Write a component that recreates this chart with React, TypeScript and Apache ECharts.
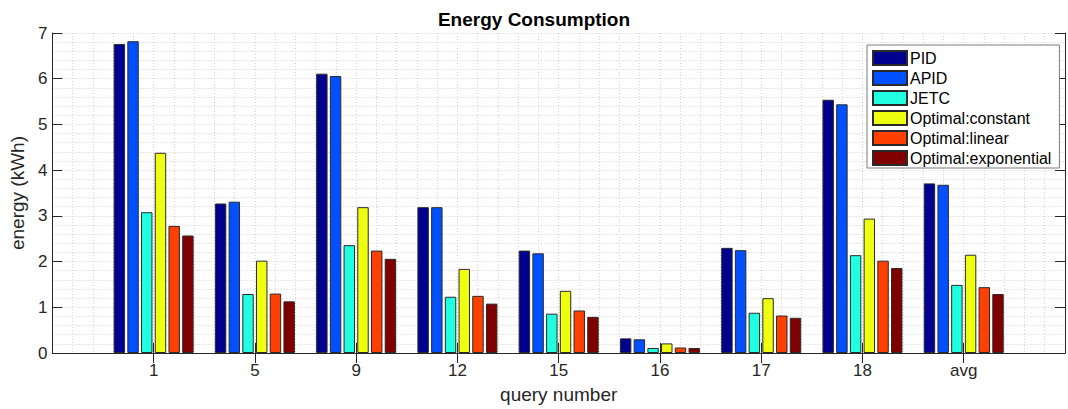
import React, { useEffect, useRef } from "react";
import * as echarts from "echarts";

// Query labels along the x axis
const categories = ["1", "5", "9", "12", "15", "16", "17", "18", "avg"];

// Energy per query (kWh) for each controller
const pid = [6.76, 3.27, 6.11, 3.19, 2.24, 0.32, 2.3, 5.54, 3.71];
const apid = [6.82, 3.31, 6.06, 3.19, 2.18, 0.3, 2.25, 5.44, 3.68];
const jetc = [3.08, 1.29, 2.36, 1.23, 0.86, 0.11, 0.88, 2.14, 1.49];
const optConstant = [4.38, 2.02, 3.19, 1.84, 1.36, 0.21, 1.2, 2.94, 2.15];
const optLinear = [2.78, 1.3, 2.24, 1.25, 0.93, 0.12, 0.82, 2.02, 1.44];
const optExponential = [2.57, 1.13, 2.06, 1.08, 0.79, 0.11, 0.77, 1.86, 1.29];

const seriesNames = [
  "PID",
  "APID",
  "JETC",
  "Optimal:constant",
  "Optimal:linear",
  "Optimal:exponential",
];
const seriesValues = [pid, apid, jetc, optConstant, optLinear, optExponential];
const seriesColors = ["#00008f", "#0050ff", "#20ffdf", "#efff10", "#ff4000", "#800000"];

const yTicks = [0, 1, 2, 3, 4, 5, 6, 7];

const FONT = "'Liberation Sans', Arial, Helvetica, sans-serif";
const AXIS_COLOR = "#262626";
const GRID_COLOR = "#d2d2d2";

export default function App() {
  const ref = useRef<HTMLDivElement>(null);

  useEffect(() => {
    if (!ref.current) return;
    const chart = echarts.init(ref.current, undefined, { renderer: "svg" });

    // x limits run half a slot past the first and last query: pad with empty slots
    const axisData = ["", ...categories, ""];
    const lastIdx = axisData.length - 1;
    const innerTick = (i: number) => i > 0 && i < lastIdx;

    const gridLine = { show: true, lineStyle: { color: GRID_COLOR, width: 1, type: [1, 2] } };

    chart.setOption({
      animation: false,
      textStyle: { fontFamily: FONT },
      title: {
        text: "Energy Consumption",
        left: "center",
        top: 10,
        padding: 0,
        textStyle: { fontSize: 19, fontWeight: "bold", color: "#000", fontFamily: FONT },
      },
      grid: { left: 49, top: 33, width: 1020, height: 323, containLabel: false },
      legend: {
        orient: "vertical",
        left: 867,
        top: 45,
        padding: [5, 8, 2, 5],
        icon: "rect",
        itemWidth: 34,
        itemHeight: 14,
        itemGap: 4,
        backgroundColor: "#fff",
        borderColor: "#7a7a7a",
        borderWidth: 1,
        borderRadius: 0,
        textStyle: { fontSize: 16, lineHeight: 16, color: "#000", fontFamily: FONT, padding: [0, 0, 0, -2] },
        data: seriesNames,
      },
      xAxis: [
        {
          type: "category",
          data: axisData,
          boundaryGap: false,
          position: "bottom",
          name: "query number",
          nameLocation: "middle",
          nameGap: 32,
          nameTextStyle: { fontSize: 19, color: AXIS_COLOR, fontFamily: FONT },
          axisLine: { show: true, lineStyle: { color: AXIS_COLOR, width: 1 } },
          axisTick: { show: true, inside: true, length: 10, interval: innerTick, lineStyle: { color: AXIS_COLOR } },
          axisLabel: { show: true, interval: 0, margin: 9, fontSize: 17, color: AXIS_COLOR, fontFamily: FONT },
          splitLine: { show: false },
        },
        {
          type: "category",
          data: axisData,
          boundaryGap: false,
          position: "top",
          axisLine: { show: true, lineStyle: { color: AXIS_COLOR, width: 1 } },
          axisTick: { show: true, inside: true, length: 10, interval: innerTick, lineStyle: { color: AXIS_COLOR } },
          axisLabel: { show: false },
          splitLine: { show: false },
        },
        {
          // grid lines: major at each query, minor every fifth of a slot
          type: "value",
          min: 0,
          max: lastIdx,
          interval: 1,
          show: true,
          position: "bottom",
          axisLine: { show: false },
          axisTick: { show: false },
          axisLabel: { show: false },
          minorTick: { show: false, splitNumber: 5 },
          splitLine: gridLine,
          minorSplitLine: gridLine,
        },
      ],
      yAxis: [
        {
          type: "value",
          min: yTicks[0],
          max: yTicks[yTicks.length - 1],
          interval: 1,
          position: "left",
          name: "energy (kWh)",
          nameLocation: "middle",
          nameGap: 25,
          nameTextStyle: { fontSize: 19, color: AXIS_COLOR, fontFamily: FONT },
          axisLine: { show: true, lineStyle: { color: AXIS_COLOR, width: 1 } },
          axisTick: { show: true, inside: true, length: 10, lineStyle: { color: AXIS_COLOR } },
          axisLabel: { margin: 5, fontSize: 17, color: AXIS_COLOR, fontFamily: FONT },
          minorTick: { show: false, splitNumber: 5 },
          splitLine: gridLine,
          minorSplitLine: gridLine,
        },
        {
          type: "value",
          min: yTicks[0],
          max: yTicks[yTicks.length - 1],
          interval: 1,
          position: "right",
          axisLine: { show: true, lineStyle: { color: AXIS_COLOR, width: 1 } },
          axisTick: { show: true, inside: true, length: 10, lineStyle: { color: AXIS_COLOR } },
          axisLabel: { show: false },
          splitLine: { show: false },
        },
      ],
      series: seriesNames.map((name, k) => ({
        name,
        type: "bar",
        xAxisIndex: 0,
        yAxisIndex: 0,
        data: [null, ...seriesValues[k], null],
        barCategoryGap: "21%",
        barGap: "20%",
        itemStyle: { color: seriesColors[k], borderColor: "#2a2a2a", borderWidth: 1 },
        emphasis: { disabled: true },
      })),
    });

    return () => chart.dispose();
  }, []);

  return (
    <div
      ref={ref}
      style={{ position: "fixed", left: 0, top: 0, width: 1068, height: 409, background: "#fff" }}
    />
  );
}
